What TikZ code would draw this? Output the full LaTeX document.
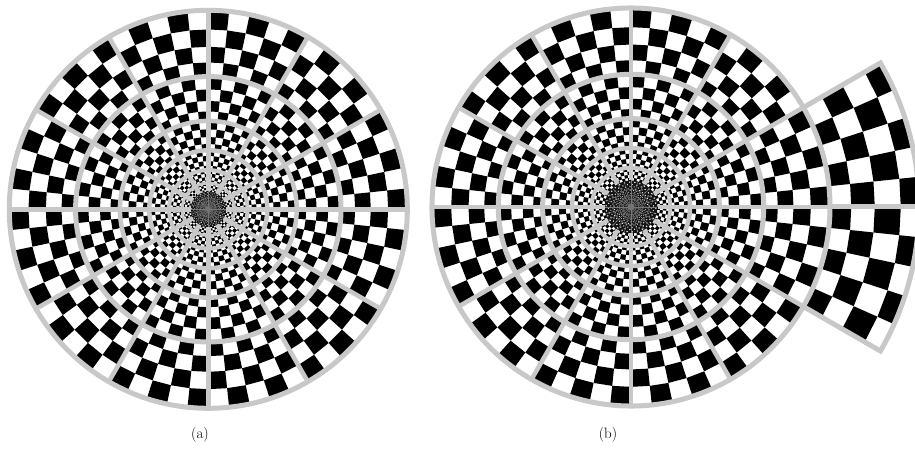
\documentclass[tikz,border=0pt]{standalone}
\usepackage{fontspec}
\definecolor{gline}{RGB}{200,200,200}
\tikzset{
  gl/.style={draw=gline,line width=#1},
  gl/.default=5pt,
  thingl/.style={draw=gline!60!black,line width=0.4pt},
  captext/.style={font=\fontsize{15}{18}\selectfont,inner sep=1pt}
}
% #1 base radius (pt), #2 last radial index
\newcommand\polarchecks[2]{%
  \foreach \m in {0,...,#2}{%
    \pgfmathsetmacro\ra{#1*exp(-0.101366*\m)}%
    \pgfmathsetmacro\rb{#1*exp(-0.101366*(\m+1))}%
    \pgfmathtruncatemacro\pp{mod(\m,2)}%
    \foreach \i in {0,...,29}{%
      \pgfmathsetmacro\ta{12*\i+6*\pp}%
      \pgfmathsetmacro\tb{\ta+6}%
      \fill[black] (\ta:\ra pt) -- (\tb:\ra pt) -- (\tb:\rb pt) -- (\ta:\rb pt) -- cycle;
    }%
  }%
}
% white dots inside the dark central disk: #1 base radius, #2 first m, #3 last m
\newcommand\diskdots[3]{%
  \foreach \m in {#2,...,#3}{%
    \pgfmathsetmacro\rm{#1*exp(-0.101366*(\m+0.5))}%
    \pgfmathsetmacro\dr{0.3*\rm*0.1047}%
    \pgfmathtruncatemacro\pp{mod(\m+1,2)}%
    \foreach \i in {0,...,29}{%
      \pgfmathsetmacro\ta{12*\i+6*\pp+3}%
      \fill[white] (\ta:\rm pt) circle[radius=\dr pt];
    }%
  }%
}
\begin{document}
\begin{tikzpicture}[x=1pt,y=1pt]
\useasboundingbox (0,0) rectangle (915,450);
\fill[white] (0,0) rectangle (915,450);

% ---------------- (a) ----------------
\begin{scope}[shift={(208.3,240.7)}]
  \begin{scope}
    \clip (0,0) circle[radius=199pt];
    \polarchecks{199}{23}
  \end{scope}
  % dark central disk
  \fill[black!92] (0,0) circle[radius=17.8pt];
  \diskdots{199}{24}{34}
  \foreach \a in {0,15,...,345}
    \draw[thingl] (0,0) -- (\a:17.5pt);
  \foreach \r in {11.7,7.8,5.2,3.5}
    \draw[thingl] (0,0) circle[radius=\r pt];
  \fill[black!55] (0,0) circle[radius=2.5pt];
  % rings
  \draw[gl=3pt] (0,0) circle[radius=26.2pt];
  \draw[gl=4pt] (0,0) circle[radius=39.3pt];
  \draw[gl=4.5pt] (0,0) circle[radius=59pt];
  \draw[gl=4.5pt] (0,0) circle[radius=88.4pt];
  \draw[gl=5pt] (0,0) circle[radius=132.7pt];
  % spokes
  \foreach \a in {0,30,...,330}
    \draw[gl=4.5pt] (\a:17.8pt) -- (\a:199pt);
  \draw[gl=5pt] (0,0) circle[radius=199pt];
\end{scope}

% ---------------- (b) ----------------
\begin{scope}[shift={(631,243)}]
  \begin{scope}
    \clip (0,0) circle[radius=199pt]
          (0,0) -- (-30:288pt) arc[start angle=-30,end angle=30,radius=288pt] -- cycle;
    \polarchecks{298.5}{23}
  \end{scope}
  \fill[black!92] (0,0) circle[radius=26.5pt];
  \diskdots{298.5}{24}{36}
  \foreach \a in {0,15,...,345}
    \draw[thingl] (0,0) -- (\a:26.2pt);
  \foreach \r in {17.5,11.7,7.8,5.2}
    \draw[thingl] (0,0) circle[radius=\r pt];
  \fill[black!55] (0,0) circle[radius=3.5pt];
  \draw[gl=4pt] (0,0) circle[radius=39.3pt];
  \draw[gl=4.5pt] (0,0) circle[radius=59pt];
  \draw[gl=5pt] (0,0) circle[radius=88.4pt];
  \draw[gl=5pt] (0,0) circle[radius=132.7pt];
  \foreach \a in {0,30,...,330}
    \draw[gl=4.5pt] (\a:26.5pt) -- (\a:199pt);
  \draw[gl=5pt] (-30:199pt) arc[start angle=-30,end angle=30,radius=199pt];
  \draw[gl=5pt] (0:199pt) -- (0:288pt);
  \draw[gl=5pt,line join=miter] (30:199pt) arc[start angle=30,end angle=330,radius=199pt]
     -- (330:288pt) arc[start angle=-30,end angle=30,radius=288pt] -- cycle;
\end{scope}

\node[captext] (capa) at (200,15) {(a)};
\node[captext] (capb) at (608,15) {(b)};
\end{tikzpicture}
\end{document}
